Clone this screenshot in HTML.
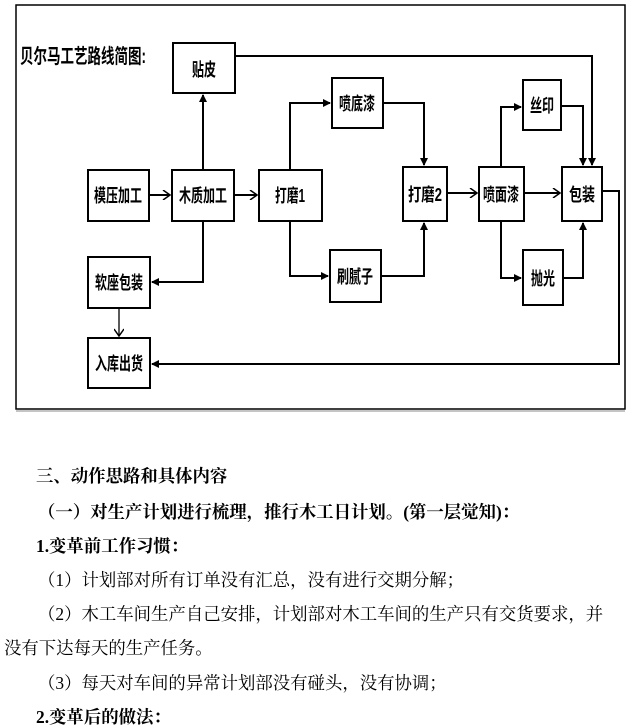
<!DOCTYPE html>
<html><head><meta charset="utf-8"><style>
body{margin:0;background:#fff;width:634px;height:727px;overflow:hidden;font-family:"Liberation Serif","Noto Serif CJK SC","Noto Sans CJK SC",serif;}
svg{position:absolute;left:0;top:0}
.t{position:absolute;font-size:17.4px;white-space:nowrap;color:#000;line-height:20px}
.b{font-weight:bold}
</style></head><body>
<svg width="634" height="420" viewBox="0 0 634 420">
<defs>
<marker id="a" markerWidth="8" markerHeight="8" refX="7" refY="4" orient="auto" markerUnits="userSpaceOnUse"><path d="M0,0 L8,4 L0,8 z" fill="#000"/></marker>
<marker id="o" markerWidth="9" markerHeight="10" refX="8" refY="5" orient="auto" markerUnits="userSpaceOnUse"><path d="M1,0 L8,5 L1,10" fill="none" stroke="#000" stroke-width="1.5"/></marker>
</defs>
<rect x="16" y="5" width="609" height="404" fill="none" stroke="#000" stroke-width="1.5"/>
<line x1="16" y1="411" x2="625" y2="411" stroke="#888" stroke-width="1"/>
<text x="20" y="63" font-family="'Liberation Sans','Noto Sans CJK SC',sans-serif" font-size="20" font-weight="bold" textLength="126" lengthAdjust="spacingAndGlyphs">贝尔马工艺路线简图:</text>
<g fill="#fff" stroke="#000" stroke-width="2">
<rect x="173" y="43" width="62" height="50"/>
<rect x="88" y="170" width="61" height="51"/>
<rect x="172" y="170" width="62" height="51"/>
<rect x="259" y="170" width="63" height="51"/>
<rect x="332" y="78" width="51" height="50"/>
<rect x="330" y="250" width="51" height="52"/>
<rect x="403" y="167" width="44" height="54"/>
<rect x="479" y="167" width="45" height="54"/>
<rect x="523" y="80" width="38" height="50"/>
<rect x="523" y="250" width="40" height="55"/>
<rect x="562" y="167" width="40" height="54"/>
<rect x="88" y="257" width="62" height="51"/>
<rect x="88" y="338" width="62" height="50"/>
</g>
<g fill="none" stroke="#000" stroke-width="2">
<path d="M149,195 H170" marker-end="url(#o)"/>
<path d="M234,195 H257" marker-end="url(#o)"/>
<path d="M203,170 V95" marker-end="url(#a)"/>
<path d="M203,221 V282 H152" marker-end="url(#a)"/>
<path d="M119,308 V336" stroke-width="1.3" marker-end="url(#o)"/>
<path d="M235,56 H592 V165" marker-end="url(#a)"/>
<path d="M290,170 V103 H330" marker-end="url(#a)"/>
<path d="M290,221 V276 H328" marker-end="url(#a)"/>
<path d="M383,103 H424 V165" marker-end="url(#a)"/>
<path d="M381,276 H424 V223" marker-end="url(#a)"/>
<path d="M447,193 H477" marker-end="url(#o)"/>
<path d="M524,193 H560" marker-end="url(#o)"/>
<path d="M501,167 V107 H521" marker-end="url(#a)"/>
<path d="M501,221 V278 H521" marker-end="url(#a)"/>
<path d="M561,106 H583 V165" marker-end="url(#a)"/>
<path d="M563,278 H583 V223" marker-end="url(#a)"/>
<path d="M602,191 H619 V364 H152" marker-end="url(#a)"/>
</g>
<g font-family="'Liberation Sans','Noto Sans CJK SC',sans-serif" font-size="18" font-weight="bold" text-anchor="middle">
<text x="204" y="76" textLength="24" lengthAdjust="spacingAndGlyphs">贴皮</text>
<text x="118" y="202" textLength="48" lengthAdjust="spacingAndGlyphs">模压加工</text>
<text x="203" y="202" textLength="48" lengthAdjust="spacingAndGlyphs">木质加工</text>
<text x="290" y="202" textLength="30" lengthAdjust="spacingAndGlyphs">打磨1</text>
<text x="357" y="110" textLength="36" lengthAdjust="spacingAndGlyphs">喷底漆</text>
<text x="355" y="283" textLength="36" lengthAdjust="spacingAndGlyphs">刷腻子</text>
<text x="425" y="201" textLength="34" lengthAdjust="spacingAndGlyphs">打磨2</text>
<text x="501" y="201" textLength="36" lengthAdjust="spacingAndGlyphs">喷面漆</text>
<text x="542" y="112" textLength="24" lengthAdjust="spacingAndGlyphs">丝印</text>
<text x="543" y="285" textLength="24" lengthAdjust="spacingAndGlyphs">抛光</text>
<text x="582" y="201" textLength="26" lengthAdjust="spacingAndGlyphs">包装</text>
<text x="119" y="289" textLength="48" lengthAdjust="spacingAndGlyphs">软座包装</text>
<text x="119" y="370" textLength="48" lengthAdjust="spacingAndGlyphs">入库出货</text>
</g>
</svg>
<div class="t b" style="left:36px;top:466px">三、动作思路和具体内容</div>
<div class="t b" style="left:38px;top:502px">（一）对生产计划进行梳理，推行木工日计划。(第一层觉知)：</div>
<div class="t b" style="left:36px;top:536px">1.变革前工作习惯：</div>
<div class="t" style="left:38px;top:570px">（1）计划部对所有订单没有汇总，没有进行交期分解；</div>
<div class="t" style="left:38px;top:604px">（2）木工车间生产自己安排，计划部对木工车间的生产只有交货要求，并</div>
<div class="t" style="left:4px;top:638px">没有下达每天的生产任务。</div>
<div class="t" style="left:38px;top:673px">（3）每天对车间的异常计划部没有碰头，没有协调；</div>
<div class="t b" style="left:36px;top:707px">2.变革后的做法：</div>
</body></html>
